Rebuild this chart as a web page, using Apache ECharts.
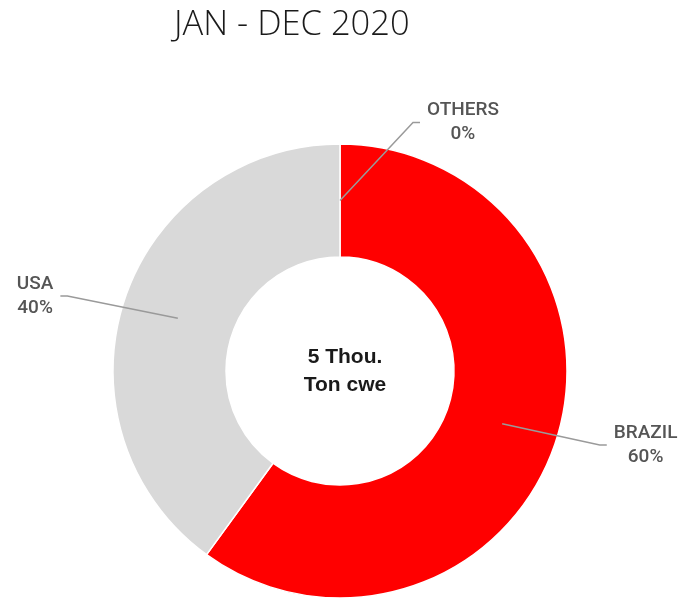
<!DOCTYPE html>
<html>
<head>
<meta charset="utf-8">
<script src="https://cdn.jsdelivr.net/npm/echarts@6/dist/echarts.min.js"></script>
<style>
html,body{margin:0;padding:0;background:#fff;}
#main{width:689px;height:599px;}
</style>
</head>
<body>
<div id="main"></div>
<script>
// ---- data ----
var titleText = 'JAN - DEC 2020';
var centerText = ['5 Thou.', 'Ton cwe'];
var categories = ['OTHERS', 'BRAZIL', 'USA'];
var shares = [0, 60, 40];           // percent of total
var sliceColors = ['#9e9e9e', '#ff0000', '#d9d9d9'];

// label line lengths per category (style only)
var lineLen = [78, 69, 72];
var lineLen2 = [80, 39, 49];

var chart = echarts.init(document.getElementById('main'), null, {renderer: 'canvas'});

var ringData = categories.map(function (c, i) {
  return {name: c, value: shares[i], itemStyle: {color: sliceColors[i]}};
});
var labelData = categories.map(function (c, i) {
  return {name: c, value: shares[i], labelLine: {length: lineLen[i], length2: lineLen2[i]}};
});

var CX = 340, CY = 371;

chart.setOption({
  animation: false,
  title: [{
    text: titleText,
    left: 169,
    top: 3,
    textStyle: {fontFamily: 'Open Sans', fontWeight: 300, fontSize: 34.5, color: '#1a1a1a'}
  }, {
    text: centerText.join('\n'),
    left: CX,
    top: CY - 33,
    textAlign: 'center',
    textStyle: {fontFamily: 'Liberation Sans', fontWeight: 'bold', fontSize: 21, lineHeight: 28, color: '#1a1a1a'}
  }],
  series: [{
    type: 'pie',
    center: [CX, CY],
    radius: [114, 227],
    startAngle: 90,
    clockwise: true,
    silent: true,
    z: 1,
    label: {show: false},
    labelLine: {show: false},
    itemStyle: {borderColor: '#ffffff', borderWidth: 1.5},
    data: ringData
  }, {
    type: 'pie',
    center: [CX, CY],
    radius: [0, 170.5],
    startAngle: 90,
    clockwise: true,
    silent: true,
    z: 5,
    avoidLabelOverlap: false,
    percentPrecision: 0,
    itemStyle: {color: 'rgba(0,0,0,0)'},
    label: {
      show: true,
      position: 'outside',
      formatter: '{b}\n{d}%',
      fontFamily: 'Roboto',
      fontWeight: 500,
      fontSize: 19,
      lineHeight: 24,
      color: '#555555',
      overflow: 'none'
    },
    labelLine: {show: true, lineStyle: {color: '#9a9a9a', width: 1.5}},
    labelLayout: function (p) {
      var pts = p.labelLinePoints;
      if (!pts) { return {}; }
      var sign = pts[1][0] >= pts[0][0] - 0.5 ? 1 : -1;
      var len2 = Math.abs(pts[2][0] - pts[1][0]);
      var end = [pts[1][0] + sign * len2, pts[1][1]];
      var w = p.labelRect.width;
      var gap = 7, tail = 7;
      return {
        x: end[0] + sign * (gap + w / 2),
        y: end[1],
        align: 'center',
        verticalAlign: 'middle',
        labelLinePoints: [pts[0], [end[0] - sign * tail, end[1]], end]
      };
    },
    data: labelData
  }]
});
</script>
</body>
</html>
